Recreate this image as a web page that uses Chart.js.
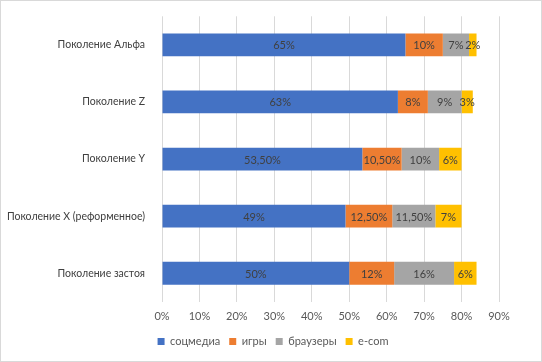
<!DOCTYPE html>
<html>
<head>
<meta charset="utf-8">
<script src="https://cdn.jsdelivr.net/npm/chart.js@4/dist/chart.umd.min.js"></script>
<style>
    html, body { margin: 0; padding: 0; background: #fff; }
    #wrap { width: 542px; height: 362px; box-sizing: border-box; border: 1px solid #d9d9d9; }
</style>
</head>
<body>
<div id="wrap"><canvas id="chart" width="540" height="360"></canvas></div>
<script>
const generations = ['Поколение Альфа', 'Поколение Z', 'Поколение Y', 'Поколение X (реформенное)', 'Поколение застоя'];
const socialMedia = [65, 63, 53.5, 49, 50];
const games = [10, 8, 10.5, 12.5, 12];
const browsers = [7, 9, 10, 11.5, 16];
const ecom = [2, 3, 6, 7, 6];
const seriesNames = ['соцмедиа', 'игры', 'браузеры', 'e-com'];
const xTicks = [0, 10, 20, 30, 40, 50, 60, 70, 80, 90];

const FONT = 'Lato, "Open Sans", sans-serif';

// value -> "53,50%" style like the Excel labels
function pct(v) {
    return Number.isInteger(v) ? v + '%' : v.toFixed(2).replace('.', ',') + '%';
}

// draws the value in the middle of each bar segment
const barLabels = {
    id: 'barLabels',
    afterDatasetsDraw(chart) {
        const ctx = chart.ctx;
        ctx.save();
        ctx.font = '11px ' + FONT;
        ctx.fillStyle = '#404040';
        ctx.textAlign = 'center';
        ctx.textBaseline = 'middle';
        chart.data.datasets.forEach((ds, i) => {
            chart.getDatasetMeta(i).data.forEach((bar, j) => {
                const x = (bar.x + bar.base) / 2;
                ctx.fillText(pct(ds.data[j]), x, bar.y + 1);
            });
        });
        ctx.restore();
    }
};

// legend is centred on the whole chart in the original, not on the padded box,
// and sits a little higher
const centerLegend = {
    id: 'centerLegend',
    afterLayout(chart) {
        const lg = chart.legend;
        const shift = (chart.width - lg.right - lg.left) / 2 + 2;
        lg.left += shift;
        lg.right += shift;
        lg.top -= 4;
        lg.bottom -= 4;
    }
};

new Chart(document.getElementById('chart'), {
    type: 'bar',
    data: {
        labels: generations,
        datasets: [
            { label: seriesNames[0], data: socialMedia, backgroundColor: '#4472C4' },
            { label: seriesNames[1], data: games, backgroundColor: '#ED7D31' },
            { label: seriesNames[2], data: browsers, backgroundColor: '#A5A5A5' },
            { label: seriesNames[3], data: ecom, backgroundColor: '#FFC000' }
        ]
    },
    options: {
        indexAxis: 'y',
        responsive: false,
        animation: false,
        datasets: { bar: { categoryPercentage: 1, barPercentage: 0.4 } },
        layout: { padding: { top: 14, left: 0, right: 42, bottom: 0 } },
        scales: {
            x: {
                stacked: true,
                min: 0,
                max: 90,
                afterBuildTicks: (scale) => { scale.ticks = xTicks.map(v => ({ value: v })); },
                ticks: { callback: v => v + '%', color: '#595959', font: { family: FONT, size: 11 }, padding: 8 },
                grid: { color: '#d9d9d9', drawTicks: false },
                border: { display: false }
            },
            y: {
                stacked: true,
                afterFit: (scale) => { scale.width = 161; },
                ticks: { color: '#404040', font: { family: FONT, size: 10.5 }, padding: 9 },
                grid: { display: false },
                border: { display: false }
            }
        },
        plugins: {
            legend: {
                position: 'bottom',
                labels: {
                    boxWidth: 7, boxHeight: 7, color: '#595959', padding: 9,
                    font: { family: FONT, size: 11, lineHeight: 0.6 }
                }
            },
            tooltip: { enabled: false }
        }
    },
    plugins: [barLabels, centerLegend]
});
</script>
</body>
</html>
